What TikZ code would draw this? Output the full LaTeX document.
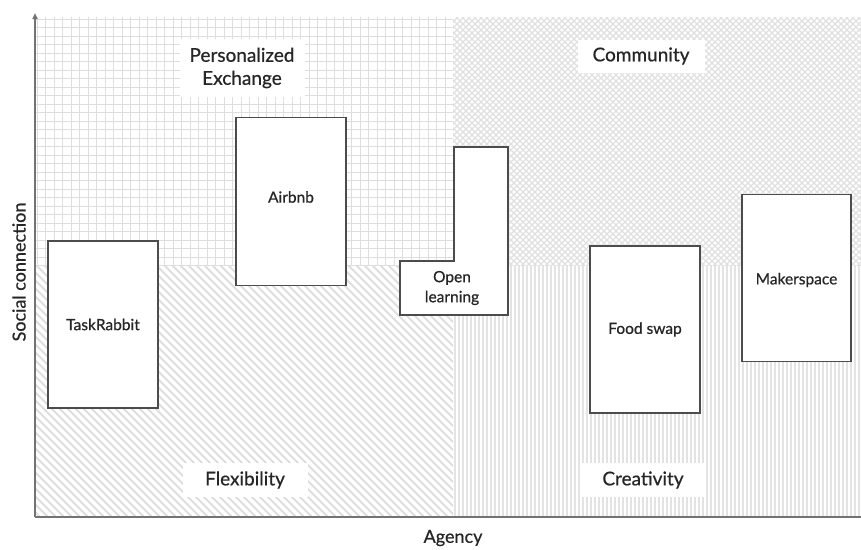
\documentclass[tikz,border=0pt]{standalone}
\usepackage{fontspec}
\setmainfont{Lato}[FakeBold=0.6]
\usetikzlibrary{arrows.meta}
\begin{document}
\begin{tikzpicture}[x=1pt,y=-1pt,
  hatch/.style={draw=black!13,line width=1pt},
  vhatch/.style={draw=black!11,line width=1.2pt},
  dhatch/.style={draw=black!13,line width=1.8pt},
  chatch/.style={draw=black!12,line width=1.3pt},
  item/.style={draw=black!70,line width=1.3pt,fill=white,inner sep=0pt,text=black!85,font=\fontsize{15.5}{18}\selectfont},
  quad/.style={fill=white,inner sep=0pt,align=center,text=black!85,font=\fontsize{19}{23}\selectfont},
  axis/.style={draw=black!55,line width=1.6pt},
  axlabel/.style={text=black!85,font=\fontsize{18}{21}\selectfont}]
\useasboundingbox (0,0) rectangle (861,549);

% top-left quadrant: square grid
\begin{scope}
  \clip (36,17) rectangle (453,265);
  \foreach \x in {37,45.5,...,460} \draw[hatch] (\x,17) -- (\x,265);
  \foreach \y in {19,27.5,...,270} \draw[hatch] (36,\y) -- (453,\y);
\end{scope}

% top-right quadrant: fine diagonal check
\begin{scope}
  \clip (453,17) rectangle (861,265);
  \foreach \a in {200,206,...,1130} {
    \draw[chatch] (\a,17) -- ++(-260,260);
    \draw[chatch] (\a-260,17) -- ++(260,260);
  }
\end{scope}

% bottom-left quadrant: diagonal stripes
\begin{scope}
  \clip (36,265) rectangle (453,516);
  \foreach \a in {-260,-252,...,460} \draw[dhatch] (\a,265) -- ++(260,260);
\end{scope}

% bottom-right quadrant: vertical stripes
\begin{scope}
  \clip (453,265) rectangle (861,516);
  \foreach \x in {455,459,...,861} \draw[vhatch] (\x,265) -- (\x,516);
\end{scope}

% axes
\coordinate (origin) at (35,517);
\coordinate (ytop) at (35,13);
\coordinate (xend) at (861,517);
\draw[axis,-{Triangle[length=6pt,width=5pt]}] (origin) -- (ytop);
\draw[axis] (origin) -- (xend);
\node[axlabel] (agency) at (453,538) {Agency};
\node[axlabel,rotate=90] (social) at (19,272) {Social connection};

% quadrant labels
\node[quad,minimum width=125pt,minimum height=58pt] (pers) at (242,68) {Personalized\\Exchange};
\node[quad,minimum width=127pt,minimum height=33pt] (comm) at (641,56) {Community};
\node[quad,minimum width=125pt,minimum height=34pt] (flex) at (245,480) {Flexibility};
\node[quad,minimum width=125pt,minimum height=34pt] (crea) at (643,480) {Creativity};

% initiatives
\node[item,minimum width=110pt,minimum height=167pt] (task) at (103,324.5) {TaskRabbit};
\node[item,minimum width=110pt,minimum height=168pt,anchor=north] (airbnb) at (291,117) {};
\node[item,draw=none,fill=none] (airbnbtext) at (291,197) {Airbnb};
\node[item,minimum width=110pt,minimum height=167pt] (food) at (645,329.5) {Food swap};
\node[item,minimum width=109pt,minimum height=167pt,anchor=north] (maker) at (796.5,194) {};
\node[item,draw=none,fill=none] (makertext) at (796.5,280) {Makerspace};

% open learning: L-shaped box
\coordinate (ol1) at (454,147);
\coordinate (ol2) at (508,147);
\coordinate (ol3) at (508,315);
\coordinate (ol4) at (400,315);
\coordinate (ol5) at (400,261);
\coordinate (ol6) at (454,261);
\draw[draw=black!70,line width=1.3pt,fill=white] (ol1) -- (ol2) -- (ol3) -- (ol4) -- (ol5) -- (ol6) -- cycle;
\node[item,draw=none,fill=none,align=center,font=\fontsize{15.5}{20}\selectfont] (open) at (452,288) {Open\\learning};
\end{tikzpicture}
\end{document}
